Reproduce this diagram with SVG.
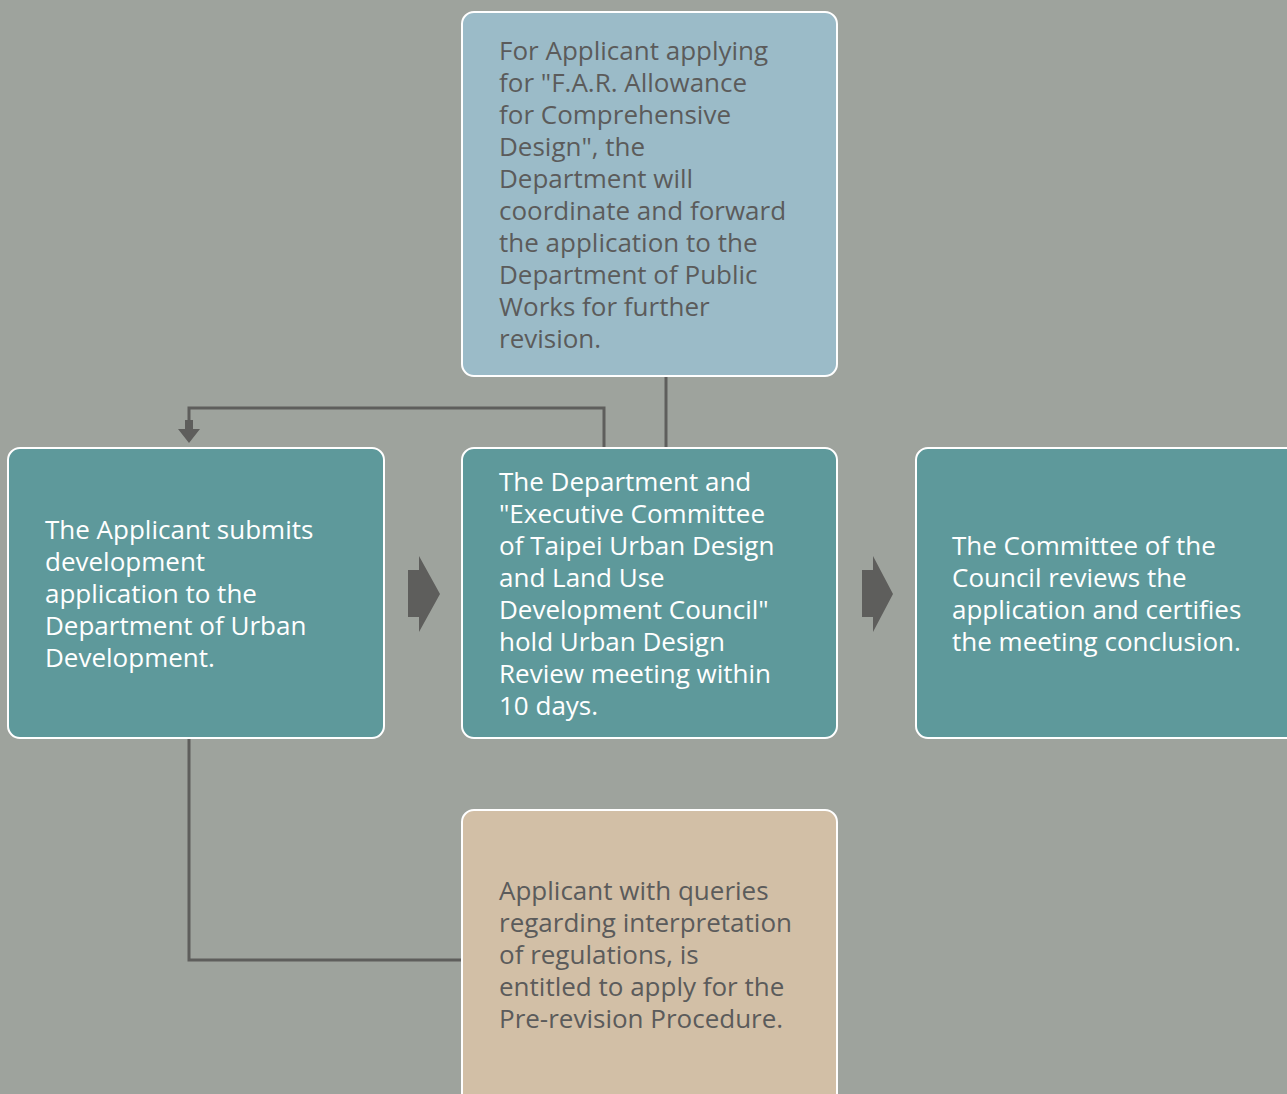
<svg xmlns="http://www.w3.org/2000/svg" width="1287" height="1094" viewBox="0 0 1287 1094">
<style>
.bx{stroke:#ffffff;stroke-width:2}
.teal{fill:#5e999b}
.blue{fill:#9bbbc8}
.tan{fill:#d2bfa6}
.t{font-family:"Open Sans","Noto Sans",sans-serif;font-size:26px}
.w{fill:#ffffff}
.d{fill:#5b5b5b}
.ln{fill:none;stroke:#5e5e5c;stroke-width:3}
.ar{fill:#5e5e5c}
</style>
<rect width="1287" height="1094" fill="#9ea39d"/>
<g id="connectors">
<polyline class="ln" points="666,376 666,448"/>
<polyline class="ln" points="604,448 604,408 189,408 189,428"/>
<polygon class="ar" points="185,420 193,420 193,429 200,429 189,443 178,429 185,429"/>
<polyline class="ln" points="189,738 189,960 462,960"/>
<polygon class="ar" points="408,570 419,570 419,556 440,594 419,632 419,617 408,617"/>
<polygon class="ar" points="862,570 873,570 873,556 893,594 873,632 873,617 862,617"/>
</g>
<g id="node-top">
<rect class="bx blue" x="462" y="12" width="375" height="364" rx="12"/>
<text class="t d"><tspan x="499" y="60">For Applicant applying</tspan><tspan x="499" y="92">for "F.A.R. Allowance</tspan><tspan x="499" y="124">for Comprehensive</tspan><tspan x="499" y="156">Design", the</tspan><tspan x="499" y="188">Department will</tspan><tspan x="499" y="220">coordinate and forward</tspan><tspan x="499" y="252">the application to the</tspan><tspan x="499" y="284">Department of Public</tspan><tspan x="499" y="316">Works for further</tspan><tspan x="499" y="348">revision.</tspan></text>
</g>
<g id="node-left">
<rect class="bx teal" x="8" y="448" width="376" height="290" rx="12"/>
<text class="t w"><tspan x="45" y="539">The Applicant submits</tspan><tspan x="45" y="571">development</tspan><tspan x="45" y="603">application to the</tspan><tspan x="45" y="635">Department of Urban</tspan><tspan x="45" y="667">Development.</tspan></text>
</g>
<g id="node-middle">
<rect class="bx teal" x="462" y="448" width="375" height="290" rx="12"/>
<text class="t w"><tspan x="499" y="491">The Department and</tspan><tspan x="499" y="523">"Executive Committee</tspan><tspan x="499" y="555">of Taipei Urban Design</tspan><tspan x="499" y="587">and Land Use</tspan><tspan x="499" y="619">Development Council"</tspan><tspan x="499" y="651">hold Urban Design</tspan><tspan x="499" y="683">Review meeting within</tspan><tspan x="499" y="715">10 days.</tspan></text>
</g>
<g id="node-right">
<rect class="bx teal" x="916" y="448" width="385" height="290" rx="12"/>
<text class="t w"><tspan x="952" y="555">The Committee of the</tspan><tspan x="952" y="587">Council reviews the</tspan><tspan x="952" y="619">application and certifies</tspan><tspan x="952" y="651">the meeting conclusion.</tspan></text>
</g>
<g id="node-bottom">
<rect class="bx tan" x="462" y="810" width="375" height="300" rx="12"/>
<text class="t d"><tspan x="499" y="900">Applicant with queries</tspan><tspan x="499" y="932">regarding interpretation</tspan><tspan x="499" y="964">of regulations, is</tspan><tspan x="499" y="996">entitled to apply for the</tspan><tspan x="499" y="1028">Pre-revision Procedure.</tspan></text>
</g>
</svg>
